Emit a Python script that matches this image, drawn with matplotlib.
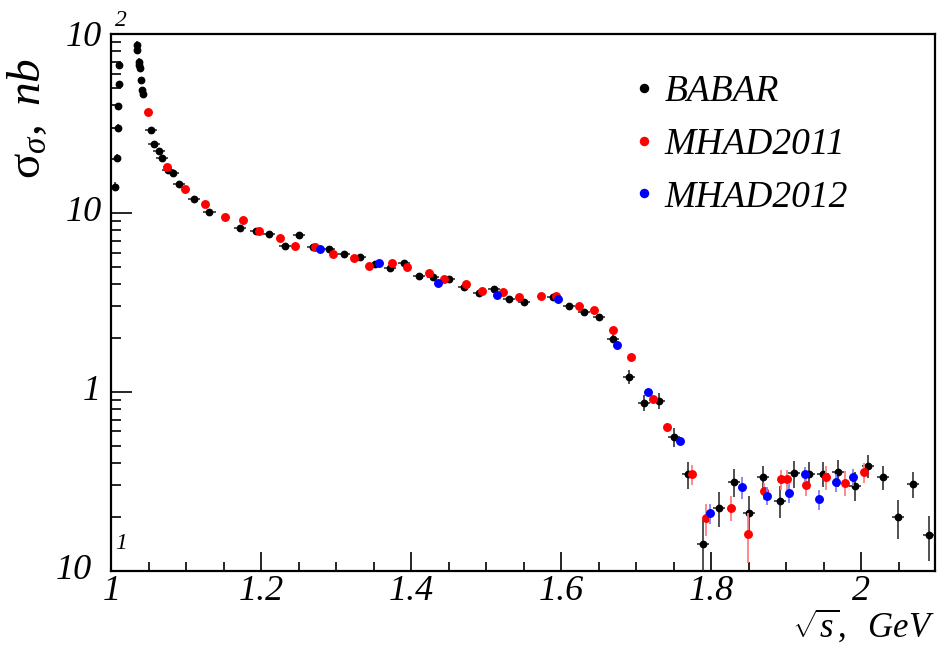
import matplotlib
matplotlib.use("Agg")
import matplotlib.pyplot as plt
from matplotlib.lines import Line2D
from matplotlib.ticker import MultipleLocator, LogLocator, NullFormatter, FixedLocator

plt.rcParams['font.family'] = ['Liberation Serif', 'DejaVu Serif']
plt.rcParams['mathtext.fontset'] = 'custom'
plt.rcParams['mathtext.rm'] = 'Liberation Serif'
plt.rcParams['mathtext.it'] = 'Liberation Serif:italic'

# ---------------- data ----------------
babar_x = [1.0049, 1.0072, 1.0085, 1.0093, 1.0103, 1.0107,
           1.0339, 1.0347, 1.0369, 1.0373, 1.0383, 1.0396, 1.0409, 1.0427,
           1.0529, 1.0569, 1.0632, 1.0676, 1.0760, 1.0827, 1.0903, 1.1105, 1.1309, 1.1709,
           1.1930, 1.2107, 1.2316, 1.2505, 1.2689, 1.2907, 1.3105, 1.3309, 1.3512, 1.3712,
           1.3903, 1.4107, 1.4293, 1.4507, 1.4703, 1.4904, 1.5103, 1.5307, 1.5503, 1.5889,
           1.6103, 1.6305, 1.6505, 1.6693, 1.6903, 1.7100, 1.7305, 1.7505, 1.7693, 1.7889,
           1.8099, 1.8299, 1.8500, 1.8693, 1.8912, 1.9103, 1.9307, 1.9493, 1.9693, 1.9907,
           2.0093, 2.0293, 2.0489, 2.0693, 2.0903]
babar_y = [14.0, 20.3, 29.7, 39.6, 52.3, 67.1,
           86.8, 81.4, 70.0, 67.1, 64.3, 55.3, 48.6, 46.0,
           29.1, 24.2, 22.3, 20.3, 17.4, 16.7, 14.5, 12.0, 10.1, 8.20,
           7.92, 7.59, 6.53, 7.49, 6.42, 6.26, 5.87, 5.65, 5.18, 4.90,
           5.23, 4.46, 4.38, 4.25, 3.87, 3.58, 3.77, 3.31, 3.17, 3.39,
           3.00, 2.79, 2.61, 1.97, 1.21, 0.869, 0.892, 0.561, 0.347, 0.1416,
           0.225, 0.313, 0.211, 0.335, 0.246, 0.350, 0.346, 0.349, 0.355, 0.299,
           0.386, 0.333, 0.200, 0.304, 0.158]
babar_yerr = [0.8, 1.0, 1.5, 1.8, 2.5, 3.5,
              4.0, 4.0, 3.5, 3.0, 3.0, 2.5, 2.2, 2.0,
              0.9, 0.7, 0.6, 0.6, 0.5, 0.5, 0.4, 0.35, 0.3, 0.25,
              0.25, 0.25, 0.2, 0.25, 0.2, 0.2, 0.2, 0.2, 0.18, 0.18,
              0.18, 0.16, 0.16, 0.15, 0.14, 0.13, 0.13, 0.12, 0.12, 0.12,
              0.12, 0.11, 0.11, 0.10, 0.11, 0.09, 0.09, 0.07, 0.06, 0.05,
              0.05, 0.055, 0.05, 0.05, 0.05, 0.06, 0.06, 0.055, 0.06, 0.055,
              0.055, 0.05, 0.05, 0.05, 0.045]
babar_xerr = [0.001] * 6 + [0.002] * 8 + [0.008] * 55

mhad2011_x = [1.0485, 1.0747, 1.0983, 1.1253, 1.1520, 1.1749, 1.1969, 1.2243, 1.2449, 1.2716,
              1.2960, 1.3239, 1.3439, 1.3739, 1.3947, 1.4236, 1.4432, 1.4725, 1.4947, 1.5227,
              1.5440, 1.5725, 1.5929, 1.6236, 1.6436, 1.6693, 1.6925, 1.7227, 1.7413, 1.7739,
              1.7923, 1.8259, 1.8493, 1.8703, 1.8929, 1.9013, 1.9263, 1.9525, 1.9783, 2.0036]
mhad2011_y = [36.8, 18.1, 13.6, 11.2, 9.45, 9.13, 7.92, 7.21, 6.53, 6.42,
              5.87, 5.63, 5.02, 5.23, 4.98, 4.60, 4.25, 4.01, 3.66, 3.63,
              3.37, 3.43, 3.43, 3.00, 2.88, 2.21, 1.56, 0.912, 0.638, 0.347,
              0.196, 0.225, 0.160, 0.279, 0.324, 0.324, 0.301, 0.333, 0.310, 0.355]
mhad2011_yerr = [0.6, 0.3, 0.2, 0.15, 0.12, 0.12, 0.1, 0.1, 0.09, 0.09,
                 0.08, 0.08, 0.07, 0.07, 0.07, 0.06, 0.06, 0.06, 0.05, 0.05,
                 0.05, 0.05, 0.05, 0.05, 0.05, 0.05, 0.05, 0.04, 0.03, 0.045,
                 0.04, 0.035, 0.05, 0.03, 0.04, 0.04, 0.04, 0.05, 0.05, 0.045]

mhad2012_x = [1.2783, 1.3573, 1.4360, 1.5147, 1.5960, 1.6743, 1.7156, 1.7583,
              1.7983, 1.8405, 1.8736, 1.9036, 1.9249, 1.9440, 1.9663, 1.9885]
mhad2012_y = [6.26, 5.28, 4.07, 3.49, 3.29, 1.83, 1.00, 0.531,
              0.209, 0.292, 0.262, 0.273, 0.347, 0.251, 0.312, 0.333]
mhad2012_yerr = [0.08, 0.07, 0.06, 0.05, 0.05, 0.04, 0.04, 0.03,
                 0.026, 0.04, 0.03, 0.035, 0.035, 0.033, 0.037, 0.035]

series_labels = ["BABAR", "MHAD2011", "MHAD2012"]
x_ticks = [1.0, 1.2, 1.4, 1.6, 1.8, 2.0]
x_tick_labels = ["1", "1.2", "1.4", "1.6", "1.8", "2"]

# ---------------- figure ----------------
W, H = 941, 645
fig = plt.figure(figsize=(W / 100, H / 100), dpi=100)
ax_left, ax_right, ax_top, ax_bot = 111.3, 935.0, 34.0, 570.7
ax = fig.add_axes([ax_left / W, 1 - ax_bot / H, (ax_right - ax_left) / W, (ax_bot - ax_top) / H])

ax.set_yscale('log')
ax.set_xlim(1.0, 2.098)
ax.set_ylim(0.1, 100)

ax.errorbar(babar_x, babar_y, yerr=babar_yerr, xerr=babar_xerr, fmt='o', color='black',
            ms=4.6, elinewidth=1.1, ecolor='#222222', capsize=0, zorder=3)
ax.errorbar(mhad2011_x, mhad2011_y, yerr=mhad2011_yerr, fmt='o', color='#ff0000',
            ms=5.4, elinewidth=1.3, ecolor='#ff8080', capsize=0, zorder=4)
ax.errorbar(mhad2012_x, mhad2012_y, yerr=mhad2012_yerr, fmt='o', color='#0000ff',
            ms=5.4, elinewidth=1.3, ecolor='#8080ff', capsize=0, zorder=5)

for s in ax.spines.values():
    s.set_linewidth(1.6)

# x ticks
ax.xaxis.set_major_locator(FixedLocator(x_ticks))
ax.xaxis.set_minor_locator(MultipleLocator(0.05))
ax.set_xticklabels(x_tick_labels, fontsize=26, style='italic')
ax.tick_params(axis='x', which='major', direction='in', length=14, width=1.2, pad=3)
ax.tick_params(axis='x', which='minor', direction='in', length=6.5, width=1.2)
ax.tick_params(top=False, right=False, which='both')

# y ticks
ax.yaxis.set_major_locator(FixedLocator([0.1, 1, 10, 100]))
ax.yaxis.set_minor_locator(LogLocator(base=10, subs=[2, 3, 4, 5, 6, 7, 8, 9]))
ax.yaxis.set_major_formatter(NullFormatter())
ax.yaxis.set_minor_formatter(NullFormatter())
ax.tick_params(axis='y', which='major', direction='in', length=15, width=1.2)
ax.tick_params(axis='y', which='minor', direction='in', length=7, width=1.2)

# manual y tick labels (ROOT style)
pt = 0.72
def ylab(txt, yv, dx_px, dy_px, size, ha):
    ax.annotate(txt, xy=(0, yv), xycoords=('axes fraction', 'data'),
                xytext=(dx_px * pt, dy_px * pt), textcoords='offset points',
                ha=ha, va='center', fontsize=size, style='italic', annotation_clip=False)

ylab("10", 100, -9, -3, 26, 'right')
ylab("2", 100, 4, 14, 17, 'left')
ylab("10", 10, -9, 0, 26, 'right')
ylab("1", 1, -10, 0, 26, 'right')
ylab("10", 0.1, -19, 0, 26, 'right')
ylab("1", 0.1, 4, 27, 17, 'left')

# axis titles
fig.text(935 / W, 1 - 626 / H, r'$\sqrt{s}\mathit{,\ \ GeV}$', ha='right', va='center', fontsize=25)
fig.text(28 / W, 1 - 58 / H, r'$\mathrm{\sigma}_{\sigma}\mathit{,\ nb}$', ha='center', va='top',
         rotation=90, fontsize=34)

# legend
handles = [Line2D([], [], marker='o', ls='none', color=c, ms=5.8)
           for c in ['black', '#ff0000', '#0000ff']]
leg = ax.legend(handles, series_labels, loc='upper left', bbox_to_anchor=(0.633, 0.925),
                frameon=False, prop={'size': 27, 'style': 'italic'},
                handlelength=0.6, handletextpad=0.24, labelspacing=0.49, borderaxespad=0,
                borderpad=0)

fig.savefig("out.png", dpi=100)
